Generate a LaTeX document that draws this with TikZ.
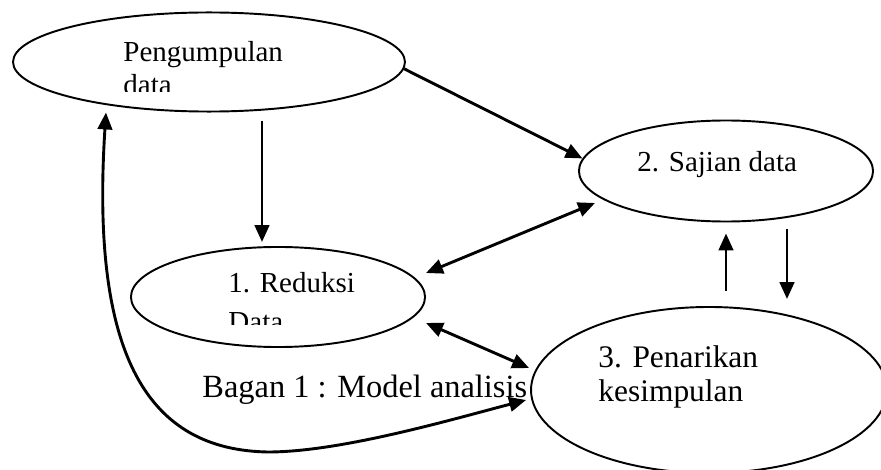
\documentclass[tikz,border=0pt]{standalone}
\usepackage{fontspec}
\setmainfont{Liberation Serif}
\usetikzlibrary{shapes.geometric, arrows.meta, calc}

\begin{document}
\begin{tikzpicture}[x=0.4138pt, y=-0.4138pt, >={Triangle[length=7pt, width=6pt]}]
    \tikzset{
        oval/.style={draw, ellipse, inner sep=0pt, line width=0.8pt},
        txt/.style={anchor=base west, inner sep=0pt, font=\fontsize{12}{14}\selectfont},
        bigtxt/.style={txt, font=\fontsize{13}{15}\selectfont},
        link/.style={line width=1.2pt, ->},
        twoway/.style={line width=1.2pt, <->},
    }
    \path[use as bounding box] (0,0) rectangle (881,470);
    \clip (0,0) rectangle (881,470);

    \node[oval, minimum width=162.2pt, minimum height=41pt] (pg) at (209,62) {};
    \node[oval, minimum width=121.7pt, minimum height=41.8pt] (sj) at (726,171) {};
    \node[oval, minimum width=121.7pt, minimum height=41.4pt] (rd) at (278,297) {};
    \node[oval, minimum width=147.3pt, minimum height=68.7pt] (pn) at (709,390) {};

    \node[txt] (pgA) at (123,62) {Pengumpulan};
    \begin{scope}
        \clip (100,0) rectangle (300,92);
        \node[txt] (pgB) at (123,95) {data};
    \end{scope}
    \node[txt] (sjA) at (637,172) {2. Sajian data};
    \node[txt] (rdA) at (228,292) {1. Reduksi};
    \begin{scope}
        \clip (200,300) rectangle (400,324);
        \node[txt] (rdB) at (228,331) {Data};
    \end{scope}
    \node[bigtxt] (pnA) at (598,367) {3. Penarikan};
    \node[bigtxt] (pnB) at (598,402) {kesimpulan};
    \node[txt, font=\fontsize{13.4}{16}\selectfont] (cap) at (202,397) {Bagan 1 : Model analisis};

    \draw[link] (pg.-2) -- (sj.175);
    \draw[link] ($(pg.south)+(53,8)$) -- ($(rd.north)+(-16,-4)$);
    \draw[twoway] ($(rd.east)+(0,-24)$) -- ($(sj.west)+(17,32)$);
    \draw[twoway] ($(rd.east)+(0,26)$) -- ($(pn.west)+(-1,-22)$);
    \draw[link] ($(pn.north)+(17,-15)$) -- ($(sj.south)+(0,11)$);
    \draw[link] ($(sj.south)+(61,7)$) -- ($(pn.north)+(78,-7)$);

    \coordinate (bend) at (268,452);
    \draw[twoway] ($(pg.south)+(-103,0)$) .. controls (90,360) and (150,450) .. (bend)
        .. controls (340,452) and (450,420) .. ($(pn.west)+(-4,10)$);
\end{tikzpicture}
\end{document}
